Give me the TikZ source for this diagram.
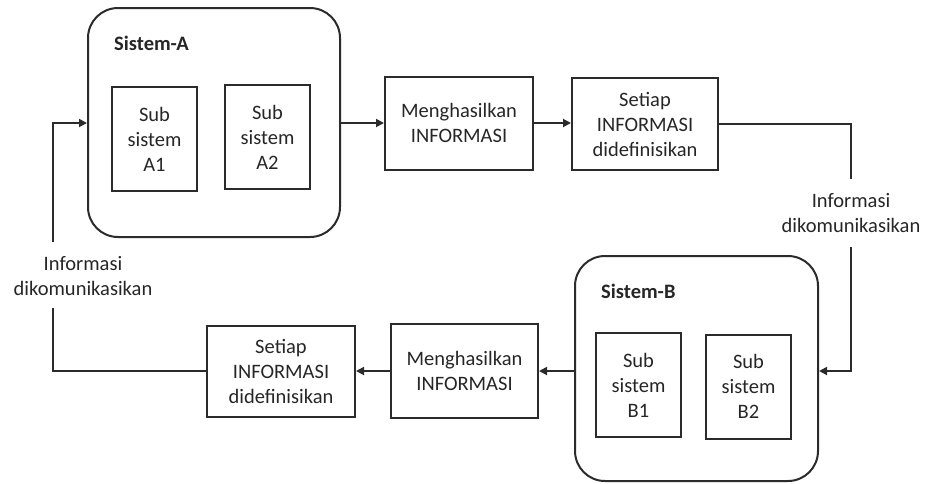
\documentclass[tikz,border=0pt]{standalone}
\usepackage{fontspec}
\setmainfont{Carlito}
\usetikzlibrary{arrows.meta}
\definecolor{ink}{HTML}{2B2B2B}
\definecolor{txt}{HTML}{262626}
\begin{document}
\begin{tikzpicture}[x=1pt,y=-1pt,
  every node/.style={text=txt,font=\fontsize{20.5}{25}\selectfont},
  sysbox/.style={draw=ink,line width=2pt,rounded corners=30pt,inner sep=0pt},
  subbox/.style={draw=ink,line width=2pt,inner sep=0pt,align=center},
  procbox/.style={draw=ink,line width=2pt,inner sep=0pt,align=center},
  systitle/.style={font=\fontsize{20.5}{25}\selectfont\bfseries,anchor=west,inner sep=0pt},
  flow/.style={draw=ink,line width=1.8pt},
  arr/.style={flow,-{Triangle[length=8pt,width=8pt]}},
  note/.style={align=center,inner sep=0pt}
]
\useasboundingbox (0,0) rectangle (928,483);

% System A with its subsystems
\node[sysbox,minimum width=252pt,minimum height=229pt] (sa) at (214,122.5) {};
\node[systitle] (sat) at (114,43) {Sistem-A};
\node[subbox,minimum width=85pt,minimum height=104pt] (a1) at (154.5,139) {Sub\\sistem\\A1};
\node[subbox,minimum width=85pt,minimum height=104pt] (a2) at (267.5,137) {Sub\\sistem\\A2};

% Upper processing chain
\node[procbox,minimum width=148pt,minimum height=93pt] (m1) at (459,123) {Menghasilkan\\INFORMASI};
\node[procbox,minimum width=146pt,minimum height=92pt] (s1) at (645,124) {Setiap\\INFORMASI\\didefinisikan};

% System B with its subsystems
\node[sysbox,minimum width=243pt,minimum height=225pt] (sb) at (696.5,368.5) {};
\node[systitle] (sbt) at (601,291) {Sistem-B};
\node[subbox,minimum width=85pt,minimum height=104pt] (b1) at (638.5,385) {Sub\\sistem\\B1};
\node[subbox,minimum width=85pt,minimum height=104pt] (b2) at (748.5,386.5) {Sub\\sistem\\B2};

% Lower processing chain
\node[procbox,minimum width=147pt,minimum height=94pt] (m2) at (464.5,371) {Menghasilkan\\INFORMASI};
\node[procbox,minimum width=148pt,minimum height=91pt] (s2) at (281,371.5) {Setiap\\INFORMASI\\didefinisikan};

% Communication labels
\node[note] (cr) at (851,213) {Informasi\\dikomunikasikan};
\node[note] (cl) at (83,276) {Informasi\\dikomunikasikan};

\coordinate (rtop) at (851,124);
\coordinate (rlo) at (851,371);
\coordinate (ltop) at (53,123);
\coordinate (llo) at (53,371);

% Connectors
\draw[arr] (sa.east |- 0,123) -- (m1.west |- 0,123);
\draw[arr] (m1.east |- 0,123) -- (s1.west |- 0,123);
\draw[flow] (s1.east |- rtop) -- (rtop) -- (851,179);
\draw[arr] (851,247) -- (rlo) -- (sb.east |- rlo);
\draw[arr] (sb.west |- rlo) -- (m2.east |- rlo);
\draw[arr] (m2.west |- rlo) -- (s2.east |- rlo);
\draw[flow] (s2.west |- llo) -- (llo) -- (53,308);
\draw[arr] (53,242) -- (ltop) -- (sa.west |- ltop);
\end{tikzpicture}
\end{document}
